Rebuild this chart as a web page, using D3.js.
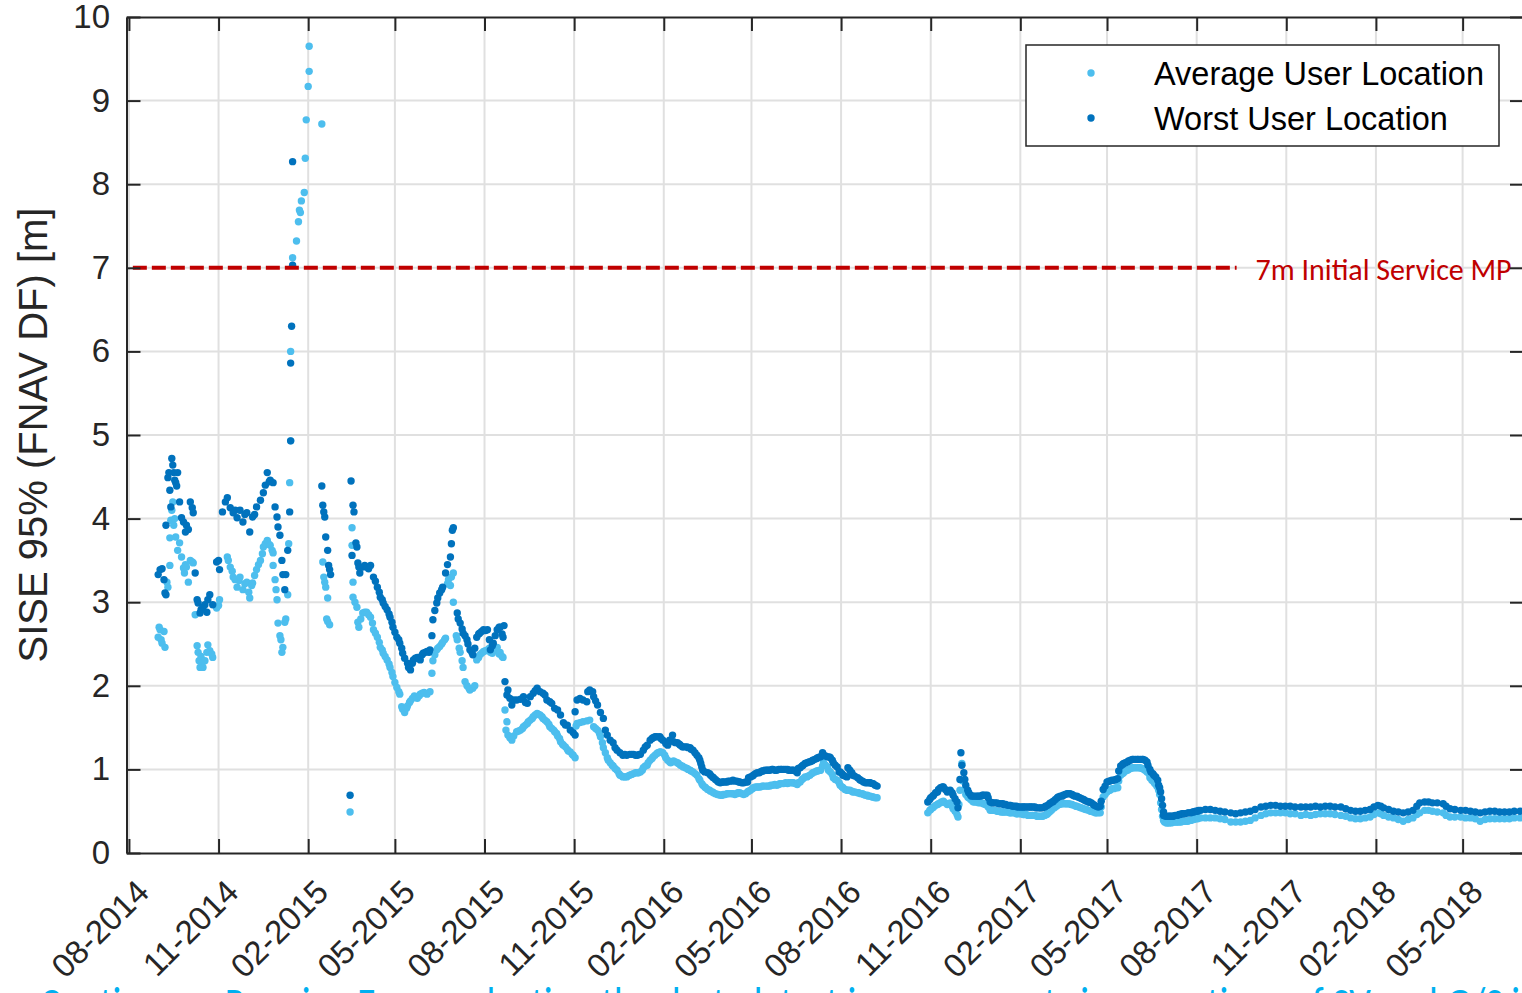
<!DOCTYPE html>
<html><head><meta charset="utf-8">
<script src="https://cdn.jsdelivr.net/npm/d3@7"></script>
<style>body{margin:0;background:#fff}svg{display:block}</style>
</head><body><svg id="c" width="1522" height="993"></svg>
<script>
// ---------------- DATA ----------------
const startDate = "2014-08-01"; // day 0 for the day offsets below
const xTickLabels = ["08-2014","11-2014","02-2015","05-2015","08-2015","11-2015","02-2016","05-2016","08-2016","11-2016","02-2017","05-2017","08-2017","11-2017","02-2018","05-2018"];
const yTickValues = [0,1,2,3,4,5,6,7,8,9,10];
const seriesNames = ["Average User Location","Worst User Location"];
const thresholdValue = 7;
const thresholdSpan = ["2014-08-05","2017-09-11"];
const thresholdLabel = "7m Initial Service MP";
const yAxisLabel = "SISE 95% (FNAV DF) [m]";
const footerText = "Continuous Ranging Error reduction thanks to latest improvements in operations of SV and G/S in";

// [day offset, SISE 95% in metres]
const avgSeg1 = [[30,2.58],[31,2.70],[32,2.67],[33,2.55],[34,2.51],[36,2.65],[37,2.46],[39,3.24],[40,3.18],[42,3.77],[42,3.44],[43,3.98],[44,4.10],[45,4.20],[46,3.92],[47,4.00],[48,3.78],[50,3.62],[52,3.71],[54,3.54],[56,3.41],[57,3.35],[58,3.45],[59,3.42],[61,3.24],[63,3.50],[65,3.48],[66,3.47],[68,2.85],[70,2.48],[71,2.40],[72,2.30],[73,2.22],[74,2.35],[75,2.27],[76,2.22],[78,2.30],[80,2.40],[81,2.49],[83,2.42],[85,2.38],[86,2.34],[90,2.93],[92,2.96],[93,3.03],[101,3.54],[102,3.50],[104,3.42],[106,3.37],[107,3.30],[109,3.27],[111,3.18],[113,3.26],[114,3.30],[117,3.15],[119,3.22],[121,3.24],[123,3.12],[124,3.05],[126,3.20],[127,3.23],[129,3.32],[131,3.39],[133,3.45],[135,3.50],[137,3.58],[138,3.66],[140,3.70],[142,3.74],[144,3.69],[145,3.68],[147,3.62],[148,3.59],[148,3.44],[150,3.27],[151,3.15],[152,3.03],[153,2.75],[155,2.60],[156,2.55],[157,2.40],[158,2.46],[160,2.76],[161,2.80],[163,3.09],[164,3.70],[165,4.43],[166,4.93],[166,6.00],[168,7.12],[172,7.32],[174,7.55],[175,7.69],[176,7.66],[177,7.80],[180,7.90],[181,8.31],[182,8.77],[184,9.17],[185,9.35],[185,9.65]];
const avgSeg2 = [[198,8.72],[199,3.48],[200,3.30],[201,3.24],[202,3.18],[203,2.80],[204,3.05],[204,2.77],[206,2.73],[227,0.49],[229,3.89],[229,3.68],[230,3.24],[230,3.06],[232,3.00],[234,2.94],[235,2.76],[236,2.70],[238,2.80],[240,2.87],[242,2.88],[244,2.88],[246,2.85],[248,2.82],[250,2.75],[251,2.67],[253,2.63],[255,2.58],[257,2.52],[258,2.46],[260,2.43],[261,2.39],[263,2.35],[265,2.31],[267,2.26],[268,2.22],[270,2.16],[271,2.11],[273,2.04],[275,1.98],[277,1.93],[278,1.90],[280,1.75],[281,1.72],[283,1.68],[285,1.73],[286,1.76],[288,1.80],[289,1.82],[291,1.85],[293,1.88],[295,1.86],[296,1.85],[298,1.88],[299,1.90],[301,1.91],[303,1.92],[306,1.90],[309,1.93],[311,2.15],[312,2.30],[314,2.37],[316,2.43],[317,2.45],[319,2.47],[321,2.50],[322,2.52],[324,2.55],[325,2.57],[327,3.22],[328,3.27],[330,3.20],[331,3.30],[333,3.35],[333,3.00],[336,2.60],[337,2.55],[339,2.45],[340,2.40],[342,2.30],[343,2.22],[345,2.05],[347,2.00],[349,1.97],[350,1.95],[353,1.97],[355,2.00],[357,2.31],[359,2.34],[360,2.37],[362,2.39],[364,2.41],[366,2.42],[368,2.43],[370,2.45],[371,2.40],[373,2.39],[375,2.43],[378,2.46],[380,2.38],[381,2.40],[383,2.35],[384,2.34],
[386,1.71],[388,1.57],[387,1.47],[389,1.41],[391,1.38],[393,1.35],[395,1.40],[398,1.45],[400,1.46],[402,1.47],[404,1.49],[405,1.51],[407,1.53],[409,1.55],[410,1.57],[412,1.59],[414,1.61],[415,1.63],[417,1.65],[419,1.67],[420,1.66],[422,1.65],[424,1.63],[425,1.61],[427,1.59],[429,1.57],[431,1.54],[432,1.51],[434,1.49],[436,1.47],[437,1.45],[439,1.43],[440,1.40],[442,1.37],[443,1.33],[445,1.30],[446,1.29],[448,1.27],[450,1.24],[451,1.22],[453,1.21],[455,1.18],[456,1.17],[458,1.14],[459,1.52],[460,1.55],[463,1.56],[466,1.57],[470,1.58],[473,1.59],[477,1.51],[479,1.49],[481,1.47],[483,1.43],[484,1.39],[486,1.32],[487,1.26],[489,1.20],[491,1.14],[492,1.11],[494,1.08],[496,1.05],[497,1.04],[499,1.01],[501,0.99],[503,0.95],[504,0.93],[506,0.92],[507,0.91],[509,0.91],[511,0.91],[512,0.92],[514,0.93],[516,0.94],[518,0.95],[520,0.96],[522,0.96],[523,0.96],[525,0.97],[527,0.99],[528,1.02],[530,1.04],[532,1.05],[533,1.08],[535,1.11],[537,1.13],[538,1.15],[540,1.17],[542,1.19],[543,1.20],[545,1.21],[546,1.21],[548,1.20],[550,1.17],[551,1.14],[553,1.11],[555,1.09],[556,1.08],[558,1.09],[559,1.10],[561,1.09],[563,1.08],[564,1.07],[566,1.05],[568,1.04],[569,1.03],[571,1.02],[573,1.01],[574,1.00],[576,0.99],[577,0.98],[579,0.97],[581,0.95],[583,0.93],[585,0.89],[586,0.87],[588,0.83],[589,0.81],[591,0.79],[592,0.78],[594,0.76],[596,0.75],[597,0.74],[599,0.73],[600,0.72],[602,0.71],[604,0.70],[605,0.70],[607,0.69],[609,0.69],[610,0.70],[612,0.70],[614,0.71],[615,0.71],[617,0.71],[619,0.71],[620,0.71],[622,0.70],[624,0.71],[625,0.72],[627,0.72],[629,0.71],[631,0.70],[633,0.71],[635,0.73],[636,0.74],[638,0.75],[640,0.77],[641,0.78],[643,0.79],[645,0.79],[646,0.79],[648,0.79],[650,0.80],[651,0.80],[653,0.80],[655,0.80],[656,0.80],[658,0.80],[659,0.81],[661,0.81],[663,0.82],[665,0.81],[667,0.82],[668,0.83],[670,0.83],[672,0.83],[674,0.84],[676,0.83],[677,0.84],[679,0.84],[681,0.84],[682,0.84],[684,0.83],[686,0.82],[687,0.84],[689,0.85],[691,0.88],[692,0.89],[694,0.91],[696,0.91],[697,0.92],[699,0.93],[701,0.95],[702,0.96],[704,0.97],[706,0.98],[707,0.98],[709,0.99],[710,0.99],[712,1.04],[713,1.08],[715,1.05],[717,1.03],[718,0.99],[720,0.97],[722,0.94],[723,0.90],[725,0.88],[727,0.87],[729,0.84],[730,0.81],[732,0.79],[733,0.78],[735,0.76],[737,0.75],[738,0.75],[740,0.75],[742,0.74],[743,0.73],[745,0.73],[748,0.72],[749,0.72],[751,0.71],[753,0.71],[754,0.70],[756,0.69],[758,0.69],[759,0.68],[761,0.68],[763,0.67],[764,0.67],[766,0.66],[768,0.66]];
const avgSeg3 = [[820,0.48],[822,0.51],[823,0.52],[825,0.54],[826,0.55],[828,0.57],[830,0.58],[831,0.59],[833,0.60],[834,0.61],[836,0.62],[838,0.60],[840,0.58],[842,0.59],[843,0.60],[845,0.56],[846,0.53],[848,0.50],[850,0.46],[851,0.43],[852,0.58],[853,0.75],[855,1.07],[856,0.86],[858,0.76],[859,0.70],[861,0.67],[862,0.66],[864,0.64],[866,0.62],[867,0.61],[869,0.61],[871,0.61],[872,0.60],[874,0.60],[876,0.60],[877,0.59],[879,0.58],[881,0.57],[882,0.55],[884,0.51],[886,0.51],[887,0.51],[889,0.51],[891,0.50],[893,0.50],[895,0.49],[897,0.49],[898,0.49],[900,0.49],[902,0.49],[904,0.48],[905,0.48],[907,0.48],[909,0.48],[911,0.47],[912,0.47],[914,0.47],[916,0.47],[918,0.46],[919,0.46],[921,0.46],[923,0.45],[925,0.45],[927,0.45],[928,0.45],[930,0.45],[932,0.44],[933,0.44],[935,0.44],[937,0.44],[938,0.44],[940,0.45],[942,0.46],[943,0.47],[945,0.49],[947,0.51],[948,0.53],[950,0.54],[952,0.56],[953,0.57],[955,0.58],[957,0.59],[958,0.59],[960,0.59],[962,0.59],[963,0.59],[965,0.59],[967,0.58],[968,0.58],[970,0.57],[972,0.56],[973,0.56],[975,0.55],[977,0.54],[978,0.54],[980,0.53],[982,0.52],[983,0.52],[985,0.51],[987,0.50],[988,0.50],[990,0.49],[992,0.48],[993,0.48],[995,0.48],[997,0.48],[998,0.55],[1000,0.67],[1002,0.70],[1004,0.73],[1006,0.75],[1007,0.75],[1009,0.77],[1011,0.77],[1013,0.78],[1015,0.78],[1016,0.86],[1018,0.93],[1020,0.95],[1021,0.96],[1023,0.98],[1025,0.99],[1026,1.00],[1028,1.01],[1030,1.02],[1031,1.02],[1033,1.02],[1035,1.02],[1037,1.02],[1038,1.02],[1040,1.01],[1042,1.00],[1043,0.99],[1045,0.97],[1047,0.95],[1048,0.90],[1050,0.87],[1052,0.85],[1053,0.83],[1055,0.80],[1056,0.79],[1057,0.75],[1058,0.70],[1059,0.60],[1060,0.52],[1061,0.44],[1062,0.39],[1063,0.37],[1065,0.36],[1066,0.36],[1068,0.36],[1070,0.36],[1072,0.37],[1073,0.37],[1075,0.37],[1076,0.37],[1078,0.37],[1080,0.37],[1082,0.38],[1083,0.38],[1085,0.38],[1087,0.38],[1088,0.39],[1090,0.39],[1092,0.40],[1093,0.40],[1095,0.41],[1097,0.41],[1098,0.42],[1100,0.42],
[1105,0.42],[1110,0.42],[1115,0.42],[1120,0.41],[1125,0.40],[1131,0.37],[1136,0.37],[1141,0.37],[1146,0.38],[1151,0.39],[1156,0.42],[1162,0.45],[1167,0.47],[1172,0.48],[1177,0.48],[1182,0.48],[1187,0.48],[1192,0.47],[1197,0.47],[1203,0.45],[1208,0.46],[1213,0.45],[1218,0.46],[1223,0.47],[1228,0.47],[1233,0.47],[1238,0.46],[1244,0.45],[1249,0.44],[1254,0.42],[1259,0.41],[1264,0.41],[1269,0.42],[1274,0.43],[1278,0.46],[1282,0.48],[1285,0.47],[1288,0.45],[1293,0.43],[1298,0.42],[1303,0.40],[1308,0.38],[1313,0.40],[1318,0.42],[1322,0.46],[1325,0.48],[1330,0.51],[1334,0.51],[1338,0.50],[1343,0.49],[1349,0.48],[1352,0.45],[1356,0.43],[1361,0.43],[1367,0.43],[1372,0.42],[1377,0.42],[1382,0.41],[1387,0.38],[1392,0.40],[1397,0.41],[1402,0.41],[1407,0.41],[1412,0.41],[1417,0.41],[1422,0.42],[1428,0.42]];

const worstSeg1 = [[30,3.33],[32,3.39],[34,3.40],[36,3.27],[37,3.11],[38,3.09],[38,3.92],[40,4.49],[41,4.55],[42,4.34],[43,4.14],[44,4.72],[45,4.64],[46,4.55],[47,4.46],[48,4.43],[49,4.39],[50,4.55],[52,4.20],[54,4.01],[56,3.96],[58,3.84],[59,3.92],[61,3.87],[63,4.20],[65,4.13],[66,4.07],[68,3.35],[70,3.03],[71,2.99],[73,2.87],[74,2.91],[76,2.94],[78,2.97],[80,2.88],[81,3.03],[83,3.09],[86,2.97],[90,3.48],[92,3.50],[93,3.39],[96,4.08],[99,4.20],[101,4.25],[104,4.13],[107,4.07],[109,4.10],[111,4.01],[114,4.10],[117,3.96],[119,4.05],[121,4.07],[124,3.84],[127,4.02],[129,4.05],[131,4.14],[135,4.22],[138,4.31],[140,4.40],[142,4.55],[144,4.44],[145,4.46],[148,4.43],[150,4.14],[152,4.02],[153,3.90],[155,3.80],[157,3.50],[158,3.33],[160,3.15],[161,3.33],[163,3.62],[165,4.08],[166,4.93],[166,5.86],[167,6.30],[168,7.03],[168,8.27]];
const worstSeg2 = [[198,4.39],[199,4.16],[200,4.08],[201,4.02],[202,3.78],[204,3.62],[205,3.44],[206,3.39],[207,3.33],[227,0.69],[228,4.45],[229,3.56],[230,4.16],[231,4.08],[233,3.71],[234,3.66],[235,3.47],[236,3.42],[237,3.35],[240,3.42],[242,3.44],[244,3.42],[246,3.40],[248,3.44],[251,3.30],[253,3.25],[255,3.18],[257,3.12],[258,3.06],[260,3.03],[261,2.99],[263,2.95],[265,2.91],[267,2.86],[268,2.82],[270,2.76],[271,2.70],[273,2.64],[275,2.58],[277,2.55],[278,2.51],[280,2.45],[281,2.39],[283,2.33],[286,2.27],[287,2.22],[289,2.19],[291,2.27],[292,2.31],[294,2.33],[296,2.34],[298,2.33],[299,2.31],[301,2.37],[302,2.39],[304,2.40],[306,2.41],[308,2.40],[309,2.43],[311,2.60],[312,2.79],[314,2.90],[316,2.99],[317,3.05],[319,3.11],[321,3.15],[322,3.18],[325,3.35],[327,3.45],[330,3.54],[331,3.70],[332,3.86],[333,3.89],[337,2.87],[338,2.80],[340,2.75],[342,2.68],[343,2.63],[345,2.60],[347,2.55],[348,2.50],[350,2.43],[352,2.40],[353,2.37],[355,2.45],[357,2.58],[359,2.62],[360,2.63],[362,2.65],[364,2.67],[366,2.66],[368,2.67],[370,2.55],[371,2.43],[373,2.48],[374,2.51],[376,2.60],[378,2.67],[380,2.70],[381,2.70],[383,2.62],[384,2.58],[385,2.72],
[386,2.05],[389,1.95],[388,1.89],[391,1.85],[393,1.77],[395,1.83],[398,1.83],[402,1.84],[405,1.87],[407,1.80],[409,1.79],[412,1.87],[415,1.91],[417,1.94],[419,1.97],[422,1.93],[425,1.91],[427,1.89],[429,1.83],[432,1.81],[434,1.79],[437,1.73],[440,1.71],[443,1.65],[446,1.56],[448,1.53],[450,1.53],[453,1.47],[456,1.44],[458,1.41],[458,1.69],[460,1.83],[463,1.85],[466,1.83],[470,1.81],[471,1.93],[473,1.95],[476,1.93],[477,1.87],[479,1.82],[481,1.77],[484,1.68],[487,1.61],[489,1.47],[491,1.41],[494,1.35],[497,1.32],[499,1.26],[501,1.23],[504,1.20],[507,1.17],[509,1.18],[511,1.17],[514,1.18],[516,1.18],[518,1.18],[520,1.17],[522,1.17],[524,1.18],[525,1.18],[528,1.23],[530,1.27],[532,1.29],[535,1.35],[537,1.37],[538,1.38],[540,1.39],[542,1.39],[545,1.39],[546,1.37],[548,1.35],[551,1.31],[553,1.29],[555,1.35],[556,1.35],[558,1.41],[559,1.33],[561,1.32],[563,1.32],[565,1.30],[566,1.29],[568,1.27],[569,1.27],[571,1.27],[573,1.27],[574,1.26],[576,1.26],[577,1.24],[579,1.23],[581,1.20],[583,1.17],[585,1.14],[586,1.11],[587,1.07],[588,1.03],[589,0.99],[591,0.97],[594,0.96],[596,0.95],[597,0.93],[599,0.91],[600,0.90],[602,0.88],[604,0.86],[605,0.85],[607,0.84],[609,0.85],[610,0.85],[612,0.85],[614,0.85],[615,0.86],[617,0.86],[619,0.86],[620,0.87],[622,0.86],[624,0.86],[626,0.85],[627,0.85],[629,0.84],[631,0.84],[633,0.85],[635,0.85],[636,0.90],[638,0.91],[640,0.92],[641,0.93],[643,0.95],[645,0.96],[647,0.96],[648,0.97],[650,0.98],[651,0.98],[653,0.99],[655,0.99],[656,0.99],[658,0.99],[660,1.00],[661,1.00],[663,0.99],[665,0.99],[667,1.00],[669,1.00],[670,1.00],[672,1.00],[674,1.00],[676,1.00],[677,0.99],[679,0.99],[681,0.99],[682,0.99],[684,0.98],[686,0.96],[687,1.01],[689,1.02],[691,1.04],[692,1.05],[694,1.07],[696,1.08],[698,1.09],[699,1.09],[701,1.10],[702,1.11],[704,1.12],[706,1.13],[707,1.14],[709,1.15],[710,1.15],[712,1.20],[713,1.17],[715,1.16],[717,1.15],[719,1.15],[720,1.14],[722,1.11],[723,1.08],[725,1.05],[727,1.03],[729,0.97],[730,0.97],[732,0.95],[733,0.93],[735,0.92],[737,0.91],[738,1.02],[740,0.99],[742,0.96],[743,0.93],[745,0.92],[748,0.90],[750,0.88],[751,0.87],[753,0.86],[754,0.85],[756,0.84],[758,0.84],[760,0.84],[761,0.84],[763,0.83],[764,0.83],[766,0.81],[768,0.80]];
const worstSeg3 = [[820,0.61],[822,0.64],[823,0.66],[825,0.68],[826,0.69],[828,0.72],[830,0.73],[831,0.76],[833,0.78],[835,0.79],[836,0.79],[838,0.76],[840,0.73],[841,0.74],[843,0.75],[845,0.72],[846,0.69],[848,0.65],[850,0.61],[851,0.54],[853,0.88],[854,1.20],[855,1.05],[857,0.96],[858,0.88],[859,0.81],[861,0.75],[862,0.72],[864,0.69],[865,0.68],[867,0.68],[869,0.68],[871,0.68],[872,0.68],[874,0.68],[876,0.69],[877,0.69],[879,0.69],[881,0.69],[882,0.66],[884,0.61],[886,0.60],[887,0.60],[889,0.60],[891,0.60],[893,0.59],[895,0.59],[897,0.59],[898,0.58],[900,0.58],[902,0.57],[904,0.57],[905,0.57],[907,0.56],[909,0.56],[911,0.56],[912,0.55],[914,0.55],[916,0.55],[918,0.55],[919,0.55],[921,0.55],[923,0.55],[925,0.55],[926,0.55],[928,0.55],[930,0.55],[931,0.54],[933,0.54],[935,0.54],[936,0.54],[938,0.54],[940,0.55],[941,0.56],[943,0.57],[945,0.59],[946,0.60],[948,0.61],[949,0.62],[951,0.64],[953,0.66],[954,0.67],[956,0.68],[958,0.68],[959,0.69],[961,0.70],[963,0.71],[964,0.71],[966,0.71],[968,0.70],[969,0.69],[971,0.68],[973,0.68],[974,0.67],[976,0.66],[978,0.65],[980,0.64],[981,0.63],[983,0.62],[985,0.61],[986,0.61],[988,0.60],[990,0.58],[991,0.57],[993,0.56],[995,0.55],[997,0.56],[998,0.62],[1000,0.76],[1002,0.80],[1004,0.85],[1006,0.86],[1007,0.86],[1009,0.87],[1011,0.87],[1013,0.88],[1015,0.89],[1016,0.98],[1018,1.04],[1020,1.06],[1021,1.07],[1023,1.08],[1025,1.09],[1026,1.10],[1028,1.11],[1030,1.12],[1031,1.12],[1033,1.12],[1035,1.12],[1036,1.12],[1038,1.12],[1040,1.12],[1041,1.12],[1043,1.11],[1045,1.09],[1046,1.05],[1048,1.00],[1049,0.97],[1051,0.95],[1052,0.93],[1054,0.91],[1056,0.87],[1057,0.81],[1058,0.78],[1059,0.73],[1060,0.65],[1061,0.57],[1062,0.49],[1062,0.45],[1064,0.44],[1066,0.44],[1068,0.44],[1069,0.44],[1071,0.44],[1072,0.44],[1074,0.45],[1076,0.45],[1078,0.46],[1079,0.46],[1081,0.47],[1082,0.47],[1084,0.47],[1087,0.48],[1088,0.48],[1090,0.48],[1092,0.49],[1093,0.49],[1095,0.50],[1097,0.50],[1098,0.51],[1100,0.51],
[1105,0.52],[1110,0.52],[1115,0.51],[1120,0.50],[1125,0.49],[1131,0.48],[1136,0.47],[1141,0.48],[1146,0.49],[1151,0.50],[1156,0.52],[1162,0.55],[1167,0.56],[1172,0.57],[1177,0.57],[1182,0.56],[1187,0.56],[1192,0.56],[1197,0.55],[1203,0.55],[1208,0.55],[1213,0.55],[1218,0.56],[1223,0.55],[1228,0.56],[1233,0.56],[1238,0.55],[1244,0.55],[1249,0.53],[1254,0.51],[1259,0.50],[1264,0.50],[1269,0.51],[1274,0.52],[1278,0.55],[1282,0.57],[1285,0.56],[1288,0.54],[1293,0.52],[1298,0.50],[1303,0.49],[1308,0.48],[1313,0.49],[1318,0.51],[1322,0.56],[1325,0.60],[1330,0.61],[1334,0.61],[1338,0.60],[1343,0.60],[1349,0.59],[1352,0.56],[1356,0.53],[1361,0.52],[1367,0.51],[1372,0.51],[1377,0.50],[1382,0.49],[1387,0.48],[1392,0.49],[1397,0.50],[1402,0.50],[1407,0.49],[1412,0.49],[1417,0.49],[1422,0.50],[1428,0.50]];

// ---------------- STYLE ----------------
const colAvg = "#4DBEEE", colWorst = "#0072BD", colAxis = "#262626", colGrid = "#e0e0e0", colRed = "#C00000";
const sans = "'Liberation Sans', Arial, Helvetica, sans-serif";
const dotR = 3.7;

// ---------------- CHART ----------------
const svg = d3.select("#c");
const day0 = d3.utcParse("%Y-%m-%d")(startDate);
const toDate = d => d3.utcDay.offset(day0, d);
const parseMY = d3.utcParse("%m-%Y");
const parseYMD = d3.utcParse("%Y-%m-%d");
const tickDates = xTickLabels.map(parseMY);

const frame = {left:126.5, right:1524, top:17, bottom:853};
const x = d3.scaleUtc()
  .domain([new Date(Date.UTC(2014,6,29,12)), new Date(Date.UTC(2018,6,3))])
  .range([frame.left, frame.right]);
const y = d3.scaleLinear().domain([0,10]).range([frame.bottom, frame.top]);

// grid
const grid = svg.append("g").attr("stroke", colGrid).attr("stroke-width", 2);
grid.selectAll("line.v").data(tickDates).join("line")
  .attr("x1", d => x(d)).attr("x2", d => x(d)).attr("y1", frame.top).attr("y2", frame.bottom);
grid.selectAll("line.h").data(yTickValues.slice(1, -1)).join("line")
  .attr("x1", frame.left).attr("x2", frame.right).attr("y1", d => y(d)).attr("y2", d => y(d));

// points
const avgAll = avgSeg1.concat(avgSeg2, avgSeg3);
const worstAll = worstSeg1.concat(worstSeg2, worstSeg3);
const plot = svg.append("g");
plot.append("g").attr("fill", colAvg).selectAll("circle").data(avgAll).join("circle")
  .attr("cx", d => x(toDate(d[0]))).attr("cy", d => y(d[1])).attr("r", dotR);
plot.append("g").attr("fill", colWorst).selectAll("circle").data(worstAll).join("circle")
  .attr("cx", d => x(toDate(d[0]))).attr("cy", d => y(d[1])).attr("r", dotR);

// threshold line
svg.append("line")
  .attr("x1", x(parseYMD(thresholdSpan[0]))).attr("x2", x(parseYMD(thresholdSpan[1])))
  .attr("y1", y(thresholdValue)).attr("y2", y(thresholdValue))
  .attr("stroke", colRed).attr("stroke-width", 4).attr("stroke-dasharray", "14,5");
svg.append("text").attr("x", x(parseYMD(thresholdSpan[1])) + 19).attr("y", y(thresholdValue) + 12)
  .attr("fill", colRed).attr("font-family", "Carlito, Lato, sans-serif").attr("font-size", 30)
  .attr("textLength", 256).attr("lengthAdjust", "spacingAndGlyphs").text(thresholdLabel);

// axes
function styleAxis(g){
  g.selectAll("path.domain").attr("stroke", colAxis).attr("stroke-width", 2);
  g.selectAll(".tick line").attr("stroke", colAxis).attr("stroke-width", 2);
  g.selectAll("text").attr("fill", colAxis).attr("font-family", sans).attr("font-size", 33);
}
svg.append("g").attr("transform", `translate(0,${frame.bottom})`)
  .call(d3.axisBottom(x).tickValues(tickDates).tickSizeInner(-14).tickSizeOuter(0).tickFormat(""))
  .call(styleAxis);
svg.append("g").attr("transform", `translate(0,${frame.top})`)
  .call(d3.axisTop(x).tickValues(tickDates).tickSizeInner(-14).tickSizeOuter(0).tickFormat(""))
  .call(styleAxis);
svg.append("g").attr("transform", `translate(${frame.left},0)`)
  .call(d3.axisLeft(y).tickValues(yTickValues).tickSizeInner(-14).tickSizeOuter(0).tickPadding(16.5).tickFormat(d3.format("d")))
  .call(styleAxis);
svg.append("g").attr("transform", `translate(${frame.right},0)`)
  .call(d3.axisRight(y).tickValues(yTickValues).tickSizeInner(-14).tickSizeOuter(0).tickFormat(""))
  .call(styleAxis);

// rotated x labels
svg.append("g").selectAll("text").data(tickDates).join("text")
  .attr("transform", d => `translate(${x(d) + 22},894) rotate(-45)`)
  .attr("text-anchor", "end").attr("fill", colAxis).attr("font-family", sans).attr("font-size", 33)
  .text((d,i) => xTickLabels[i]);

// y label
svg.append("text").attr("transform", "translate(47,435) rotate(-90)")
  .attr("text-anchor", "middle").attr("fill", colAxis).attr("font-family", sans).attr("font-size", 40)
  .text(yAxisLabel);

// legend
const lg = svg.append("g");
lg.append("rect").attr("x", 1026).attr("y", 45).attr("width", 473).attr("height", 101)
  .attr("fill", "#fff").attr("stroke", colAxis).attr("stroke-width", 1.5);
[colAvg, colWorst].forEach((c, i) => {
  lg.append("circle").attr("cx", 1091).attr("cy", 73 + i*45).attr("r", dotR).attr("fill", c);
  lg.append("text").attr("x", 1154).attr("y", 85 + i*45).attr("fill", "#000")
    .attr("font-family", sans).attr("font-size", 32.5).text(seriesNames[i]);
});

// footer text (cropped at the bottom edge in the reference)
svg.append("text").attr("x", 40).attr("y", 1020).attr("fill", "#00B0F0")
  .attr("font-family", "Carlito, Lato, sans-serif").attr("font-size", 48)
  .attr("textLength", 1500).attr("lengthAdjust", "spacingAndGlyphs").text(footerText);
</script></body></html>
